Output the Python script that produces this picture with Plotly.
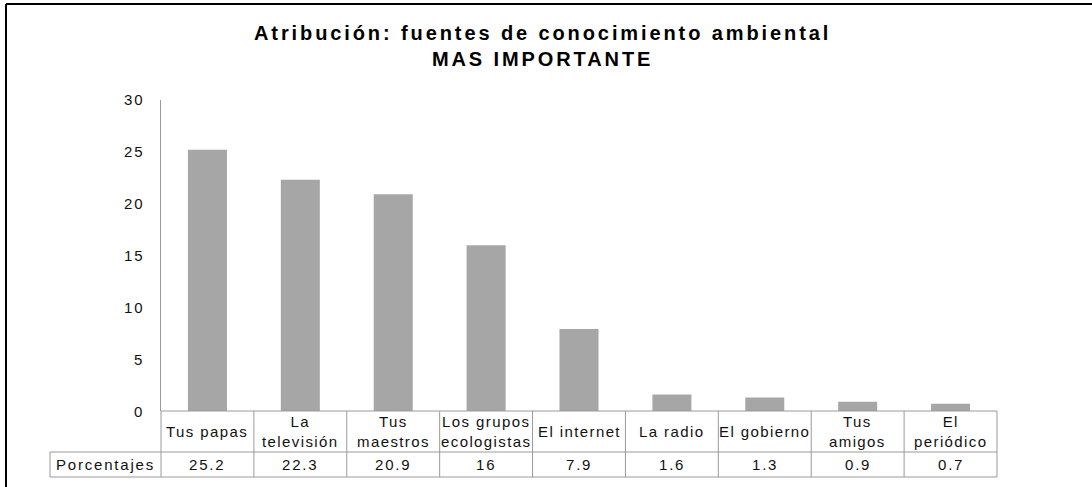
import plotly.graph_objects as go

W, H = 1092, 487

categories = ["Tus papas", "La televisión", "Tus maestros", "Los grupos ecologistas",
              "El internet", "La radio", "El gobierno", "Tus amigos", "El periódico"]
cat_labels = [["Tus papas"], ["La", "televisión"], ["Tus", "maestros"], ["Los grupos", "ecologistas"],
              ["El internet"], ["La radio"], ["El gobierno"], ["Tus", "amigos"], ["El", "periódico"]]
values = [25.2, 22.3, 20.9, 16, 7.9, 1.6, 1.3, 0.9, 0.7]
series_name = "Porcentajes"
title_lines = ["Atribución: fuentes de conocimiento ambiental", "MAS IMPORTANTE"]
y_ticks = [0, 5, 10, 15, 20, 25, 30]

# layout in pixels
PX_L, PX_R, PX_T, PX_B = 161, 997, 100, 411
ROW1_B, ROW2_B, HDR_L = 452, 477, 50

def px(x):
    return x / W

def py(y):
    return 1 - y / H

def spaced(s, ls):
    return f'<span style="letter-spacing:{ls}px">{s}</span>'

FONT = "Liberation Sans, Arial, sans-serif"
GRID = "#9a9a9a"
TXT = "#111"

fig = go.Figure(go.Bar(
    x=categories, y=values, marker=dict(color="#a6a6a6", line=dict(width=0)),
    showlegend=False, hoverinfo="x+y",
))

n = len(categories)
colw = (PX_R - PX_L) / n
shapes = []
annotations = []

def line(x0, y0, x1, y1, color=GRID, width=1):
    shapes.append(dict(type="line", xref="paper", yref="paper",
                       x0=px(x0), y0=py(y0), x1=px(x1), y1=py(y1),
                       line=dict(color=color, width=width)))

def text(x, y, s, size=15, ls=1.8, bold=False, color=TXT):
    body = "<br>".join(spaced(part, ls) for part in s)
    if bold:
        body = "<b>" + body + "</b>"
    annotations.append(dict(x=px(x), y=py(y), xref="paper", yref="paper",
                            text=body, showarrow=False, xanchor="center", yanchor="middle",
                            font=dict(family=FONT, size=size, color=color)))

# table grid
line(PX_L, PX_B, PX_R, PX_B)
line(HDR_L, ROW1_B, PX_R, ROW1_B)
line(HDR_L, ROW2_B, PX_R, ROW2_B)
line(HDR_L, ROW1_B, HDR_L, ROW2_B)
for i in range(n + 1):
    xb = PX_L + i * colw
    line(xb, PX_B, xb, ROW2_B)

for i, (lab, v) in enumerate(zip(cat_labels, values)):
    xc = PX_L + (i + 0.5) * colw
    text(xc, (PX_B + ROW1_B) / 2, lab, size=15, ls=1.4)
    text(xc, (ROW1_B + ROW2_B) / 2, [f"{v:g}"], size=15, ls=1.8)
text((HDR_L + PX_L) / 2, (ROW1_B + ROW2_B) / 2, [series_name], size=15, ls=1.8)

# title
text(542, 46, title_lines, size=20, ls=2.9, bold=True, color="#000")

# y tick labels
for t in y_ticks:
    annotations.append(dict(x=px(146), y=t, xref="paper", yref="y",
                            text=spaced(str(t), 1.8), showarrow=False,
                            xanchor="right", yanchor="middle",
                            font=dict(family=FONT, size=15, color=TXT)))

# outer chart border (left and top visible)
line(6, 4, 6, H + 5, color="#000", width=2)
line(6, 4, W + 5, 4, color="#000", width=2)

fig.update_layout(
    width=W, height=H,
    margin=dict(l=0, r=0, t=0, b=0, autoexpand=False),
    paper_bgcolor="white", plot_bgcolor="white",
    bargap=0.58,
    xaxis=dict(domain=[px(PX_L), px(PX_R)], showticklabels=False, showline=False,
               showgrid=False, zeroline=False, ticks="", automargin=False),
    yaxis=dict(domain=[py(PX_B), py(PX_T)], range=[0, 30], tickvals=y_ticks,
               showticklabels=False, automargin=False,
               showline=True, linecolor=GRID, linewidth=1, showgrid=False, zeroline=False,
               ticks=""),
    shapes=shapes, annotations=annotations,
)

fig.write_html("out.html", config={"displayModeBar": False},
               post_script="document.body.style.margin='0';document.body.style.overflow='hidden';")
